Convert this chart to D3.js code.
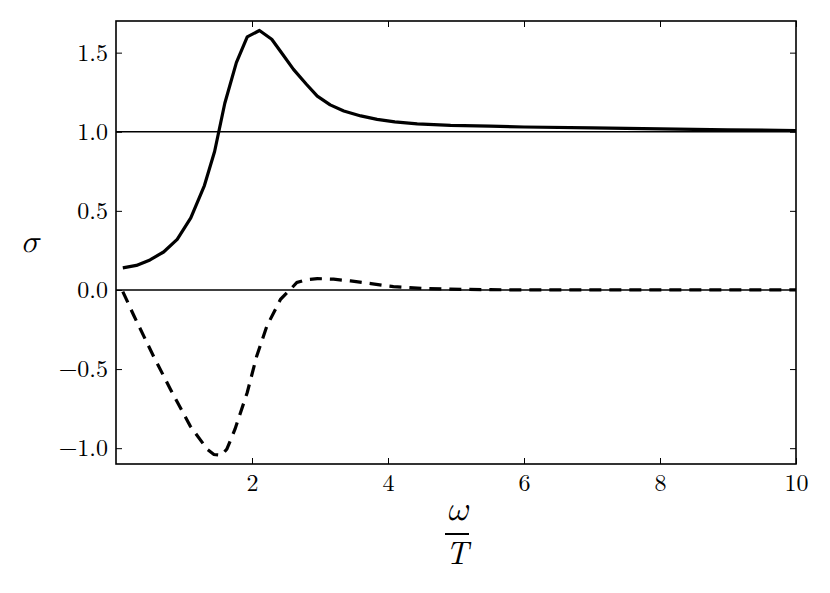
<!DOCTYPE html>
<html>
<head>
<meta charset="utf-8">
<script src="https://cdn.jsdelivr.net/npm/d3@7"></script>
<style>
  body { margin: 0; background: #fff; }
  svg text { font-family: "Latin Modern Roman", "Latin Modern Math", "Liberation Serif", serif; fill: #000; }
</style>
</head>
<body>
<div id="chart"></div>
<script>
// solid curve: sigma real part vs omega/T
var solidOmega = [0.1, 0.3, 0.5, 0.7, 0.9, 1.1, 1.3, 1.45, 1.6, 1.77, 1.93, 2.11, 2.29, 2.45, 2.61, 2.8, 2.96, 3.15, 3.35, 3.6, 3.84, 4.1, 4.43, 4.92, 5.5, 6, 7, 8, 9, 10];
var solidSigma = [0.14, 0.155, 0.19, 0.24, 0.32, 0.455, 0.66, 0.875, 1.18, 1.437, 1.60, 1.64, 1.585, 1.49, 1.394, 1.30, 1.225, 1.17, 1.131, 1.10, 1.078, 1.062, 1.05, 1.04, 1.035, 1.03, 1.025, 1.018, 1.012, 1.008];

// dashed curve
var dashOmega = [0.1, 0.26, 0.55, 0.8, 1.09, 1.34, 1.44, 1.55, 1.63, 1.75, 1.93, 2.07, 2.22, 2.42, 2.59, 2.66, 2.8, 2.96, 3.2, 3.45, 3.75, 4.08, 4.5, 4.92, 5.5, 6, 7, 8, 9, 10];
var dashSigma = [-0.01, -0.16, -0.417, -0.627, -0.859, -1.006, -1.04, -1.045, -1.006, -0.88, -0.648, -0.417, -0.227, -0.059, 0.015, 0.047, 0.065, 0.072, 0.068, 0.057, 0.04, 0.021, 0.01, 0.005, 0.002, 0, 0, 0, 0, 0];

var refLines = [0, 1];
var xTicks = [2, 4, 6, 8, 10];
var yTicks = [-1.0, -0.5, 0.0, 0.5, 1.0, 1.5];

function init() {
    var w = 830, h = 593;
    var left = 116, right = 796, top = 21, bottom = 464;
    var font = "'Latin Modern Roman', 'Latin Modern Math', 'Liberation Serif', serif";

    var svg = d3.select("#chart").append("svg")
        .attr("width", w)
        .attr("height", h);

    var x = d3.scaleLinear().domain([0, 10]).range([left, right]);
    var y = d3.scaleLinear().domain([-1.1, 1.7]).range([bottom, top]);

    // reference lines at 0 and 1
    svg.selectAll("line.ref")
        .data(refLines)
        .enter()
        .append("line")
        .attr("class", "ref")
        .attr("x1", left).attr("x2", right)
        .attr("y1", function(d) { return y(d); })
        .attr("y2", function(d) { return y(d); })
        .attr("stroke", "#000")
        .attr("stroke-width", 1.6);

    var line = d3.line()
        .x(function(d) { return x(d[0]); })
        .y(function(d) { return y(d[1]); });

    svg.append("path")
        .datum(d3.zip(solidOmega, solidSigma))
        .attr("d", line)
        .attr("fill", "none")
        .attr("stroke", "#000")
        .attr("stroke-width", 3.2)
        .attr("stroke-linejoin", "round");

    svg.append("path")
        .datum(d3.zip(dashOmega, dashSigma))
        .attr("d", line)
        .attr("fill", "none")
        .attr("stroke", "#000")
        .attr("stroke-width", 3.2)
        .attr("stroke-dasharray", "12,8");

    // axes, ticks pointing inwards on all four sides
    var gx = svg.append("g")
        .attr("transform", "translate(0," + bottom + ")")
        .call(d3.axisBottom(x).tickValues(xTicks).tickSize(-6).tickPadding(10).tickFormat(d3.format("d")));
    var gy = svg.append("g")
        .attr("transform", "translate(" + left + ",0)")
        .call(d3.axisLeft(y).tickValues(yTicks).tickSize(-6).tickPadding(8).tickFormat(d3.format(".1f")));
    var gt = svg.append("g")
        .attr("transform", "translate(0," + top + ")")
        .call(d3.axisTop(x).tickValues(xTicks).tickSize(-6).tickFormat(""));
    var gr = svg.append("g")
        .attr("transform", "translate(" + right + ",0)")
        .call(d3.axisRight(y).tickValues(yTicks).tickSize(-6).tickFormat(""));

    [gx, gy, gt, gr].forEach(function(g) {
        g.attr("font-family", null);
        g.select(".domain").remove();
        g.selectAll(".tick line").attr("stroke", "#000").attr("stroke-width", 1);
        g.selectAll("text").style("font-size", "24px").style("font-family", font);
    });

    // frame
    svg.append("rect")
        .attr("x", left).attr("y", top)
        .attr("width", right - left).attr("height", bottom - top)
        .attr("fill", "none")
        .attr("stroke", "#000")
        .attr("stroke-width", 1.6);

    // y label
    svg.append("text")
        .attr("x", 30).attr("y", 252)
        .attr("text-anchor", "middle")
        .style("font-family", font)
        .style("font-size", "32px")
        .style("font-style", "italic")
        .text("σ");

    // x label: omega over T
    var cx = (left + right) / 2 + 1;
    svg.append("text")
        .attr("x", cx).attr("y", 520)
        .attr("text-anchor", "middle")
        .style("font-family", font)
        .style("font-size", "34px")
        .style("font-style", "italic")
        .text("ω");
    svg.append("line")
        .attr("x1", cx - 12).attr("x2", cx + 12)
        .attr("y1", 534).attr("y2", 534)
        .attr("stroke", "#000")
        .attr("stroke-width", 2);
    svg.append("text")
        .attr("x", cx).attr("y", 564)
        .attr("text-anchor", "middle")
        .style("font-family", font)
        .style("font-size", "32px")
        .style("font-style", "italic")
        .text("T");
}
window.onload = init;
</script>
</body>
</html>
